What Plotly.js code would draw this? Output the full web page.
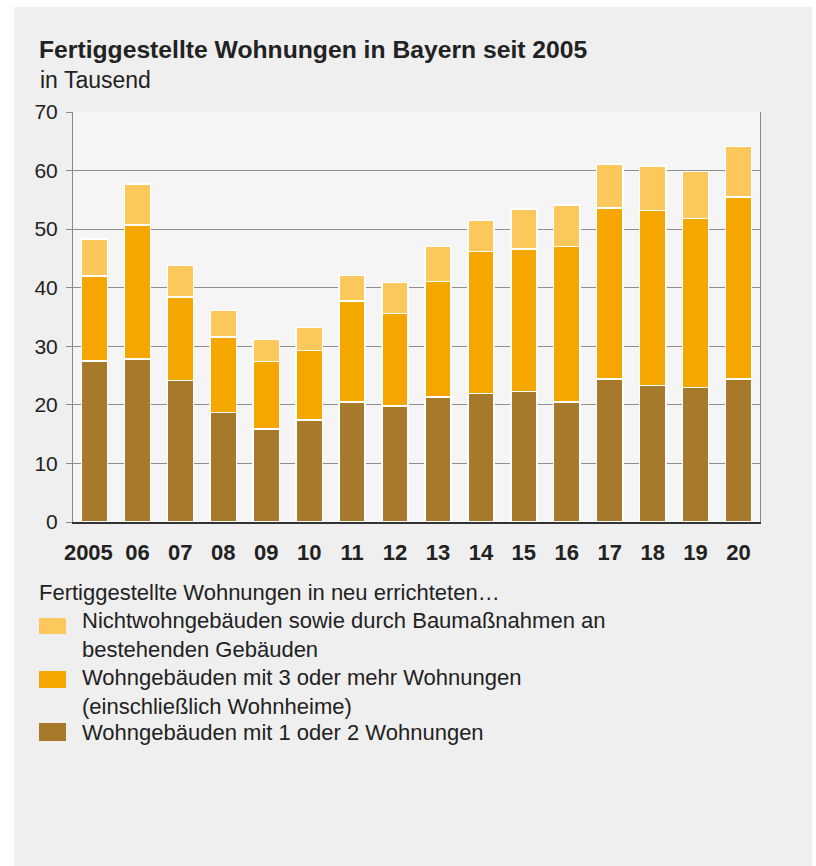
<!DOCTYPE html>
<html>
<head>
<meta charset="utf-8">
<script src="https://cdn.plot.ly/plotly-3.0.1.min.js"></script>
<style>
  body { margin: 0; background: #fff; }
  #chart { position: absolute; left: 14px; top: 7px; width: 798px; height: 859px; }
</style>
</head>
<body>
<div id="chart"></div>
<script>
//Data (in Tausend)
const years = ["2005","06","07","08","09","10","11","12","13","14","15","16","17","18","19","20"];
const einZwei = [27.5,27.8,24.2,18.7,15.9,17.4,20.5,19.8,21.3,21.9,22.3,20.5,24.4,23.3,23.0,24.4];
const dreiMehr = [14.5,22.9,14.2,12.9,11.5,11.9,17.2,15.8,19.8,24.3,24.3,26.5,29.2,29.9,28.8,31.1];
const nichtWohn = [6.3,7.0,5.4,4.5,3.8,3.9,4.4,5.3,5.9,5.4,6.8,7.1,7.5,7.6,8.0,8.6];
const yTicks = [0,10,20,30,40,50,60,70];

const titleText = "Fertiggestellte Wohnungen in Bayern seit 2005";
const unitText = "in Tausend";
const legendHead = "Fertiggestellte Wohnungen in neu errichteten…";
const seriesNames = [
  ["Nichtwohngebäuden sowie durch Baumaßnahmen an", "bestehenden Gebäuden"],
  ["Wohngebäuden mit 3 oder mehr Wohnungen", "(einschließlich Wohnheime)"],
  ["Wohngebäuden mit 1 oder 2 Wohnungen"]
];
const colors = ["#fcc85c", "#f5a700", "#a67a2a"];

//pixel -> paper helpers (plot area inside the div)
const L = 59, T = 105, W = 687, H = 410;
const px = x => (x - L) / W;
const py = y => (T + H - y) / H;
const font = "Liberation Sans, Arial, sans-serif";

function makeChart() {
  const series = [einZwei, dreiMehr, nichtWohn];
  const order = [2, 1, 0];
  const traces = series.map((s, i) => ({
    type: "bar", x: years, y: s, name: seriesNames[order[i]].join(" "),
    marker: { color: colors[order[i]], line: { color: "#ffffff", width: 1.5 } },
    showlegend: false, hoverinfo: "x+y"
  }));

  const annotations = [
    { text: "<b>" + titleText + "</b>", x: px(24), y: py(42), font: { size: 24.7 } },
    { text: unitText, x: px(25), y: py(73), font: { size: 23 } },
    { text: legendHead, x: px(24), y: py(585), font: { size: 22 } }
  ];
  const shapes = [];
  //legend rows: [swatch top, swatch bottom, text center]
  const rows = [[611, 627, 628], [664, 681, 685], [716, 734, 725]];
  rows.forEach((r, i) => {
    shapes.push({
      type: "rect", xref: "paper", yref: "paper",
      x0: px(25), x1: px(52), y0: py(r[0]), y1: py(r[1]),
      fillcolor: colors[i], line: { width: 0 }
    });
    annotations.push({ text: seriesNames[i].join("<br>"), x: px(67), y: py(r[2]), align: "left", font: { size: 22 } });
  });
  annotations.forEach(a => {
    a.xref = "paper"; a.yref = "paper"; a.xanchor = "left"; a.yanchor = "middle";
    a.showarrow = false; a.borderpad = 0; a.font.color = "#222";
  });

  //first label sits a bit left of its bar
  const tickText = years.map((y, i) => i === 0 ? y + "\u00a0\u00a0" : y);

  const layout = {
    width: 798, height: 859,
    margin: { l: L, r: 798 - L - W, t: T, b: 859 - T - H },
    paper_bgcolor: "#efefef",
    plot_bgcolor: "#f5f5f5",
    font: { family: font, color: "#222" },
    barmode: "stack",
    bargap: 0.39,
    showlegend: false,
    xaxis: {
      type: "category", tickvals: years, ticktext: tickText, tickangle: 0,
      showline: true, linecolor: "#333", linewidth: 2,
      ticks: "", ticklabelstandoff: 10,
      tickfont: { size: 22, color: "#222", weight: "bold" },
      fixedrange: true
    },
    yaxis: {
      range: [0, 70], tickvals: yTicks,
      showline: true, mirror: true, linecolor: "#8a8a8a", linewidth: 1,
      ticks: "outside", ticklen: 6, tickcolor: "#8a8a8a",
      ticklabelstandoff: 4,
      gridcolor: "#8f8f8f", gridwidth: 1, zeroline: false,
      tickfont: { size: 21, color: "#222" },
      fixedrange: true
    },
    annotations: annotations,
    shapes: shapes
  };
  Plotly.newPlot("chart", traces, layout, { displayModeBar: false, staticPlot: true });
}

document.addEventListener("DOMContentLoaded", makeChart);
</script>
</body>
</html>
